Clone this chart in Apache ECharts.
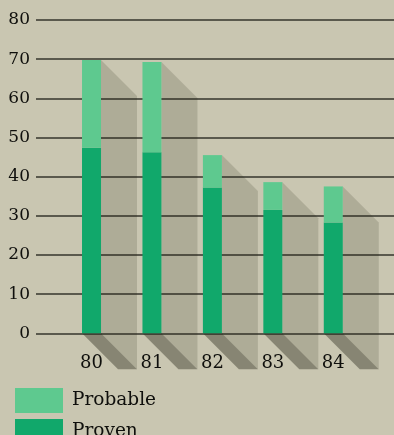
<!DOCTYPE html>
<html>
<head>
<meta charset="utf-8">
<script src="https://cdn.jsdelivr.net/npm/echarts@6/dist/echarts.min.js"></script>
<style>
  html, body { margin: 0; padding: 0; background: #c9c6b1; }
  #chart { width: 394px; height: 435px; }
</style>
</head>
<body>
<div id="chart"></div>
<script>
// Reserves by year (stacked: proven at the base, probable on top)
const categories = ['80', '81', '82', '83', '84'];
const proven = [47.4, 46.2, 37.2, 31.5, 28.3];
const probable = [22.4, 23.1, 8.3, 7.1, 9.2];
const yTicks = { min: 0, max: 80, interval: 10 };
const legendNames = ['Probable', 'Proven'];

const BAR_W = 19;       // bar width in px
const SHADOW_D = 36;    // diagonal offset of the cast shadow in px
const FONT = 'DejaVu Serif';
const INK = '#0f0f0c';

const totals = categories.map((c, i) => proven[i] + probable[i]);

// one legend block per entry, stacked down the bottom-left corner
const legendTextStyle = { fontFamily: FONT, fontSize: 18.5, color: INK, padding: [0, 0, 4, 4] };
const legends = legendNames.map((name, i) => ({
  left: 10, top: 383 + i * 31,
  itemWidth: 48, itemHeight: 25,
  icon: 'rect',
  data: [name],
  textStyle: legendTextStyle
}));

const chart = echarts.init(document.getElementById('chart'), null, { renderer: 'canvas' });

chart.setOption({
  backgroundColor: '#c9c6b1',
  animation: false,
  grid: [
    // grid for the value scale and the horizontal rules
    { left: 36, right: 0, top: 20, height: 313.3, containLabel: false },
    // grid holding the bars
    { left: 61.3, right: 30.5, top: 20, height: 313.3, containLabel: false }
  ],
  xAxis: [
    { type: 'value', gridIndex: 0, show: false, min: 0, max: 1 },
    {
      type: 'category', gridIndex: 1, data: categories,
      axisLine: { show: false }, axisTick: { show: false },
      axisLabel: { margin: 21, fontFamily: FONT, fontSize: 18, color: INK }
    }
  ],
  yAxis: [
    {
      type: 'value', gridIndex: 0, min: yTicks.min, max: yTicks.max, interval: yTicks.interval,
      axisLine: { show: false }, axisTick: { show: false },
      axisLabel: { margin: 6, fontFamily: FONT, fontSize: 17, color: INK },
      splitLine: { show: true, lineStyle: { color: '#34342c', width: 1.5 } }
    },
    {
      type: 'value', gridIndex: 1, min: yTicks.min, max: yTicks.max, interval: yTicks.interval,
      show: false, splitLine: { show: false }
    }
  ],
  legend: legends,
  series: [
    {
      // cast shadow behind each bar and its floor streak
      type: 'custom', name: 'shadow', xAxisIndex: 1, yAxisIndex: 1, z: 1,
      silent: true, clip: false,
      data: totals.map((t, i) => [i, t]),
      renderItem: function (params, api) {
        const top = api.coord([api.value(0), api.value(1)]);
        const base = api.coord([api.value(0), 0]);
        const x0 = top[0] - BAR_W / 2, x1 = top[0] + BAR_W / 2;
        const yt = top[1], yb = base[1], d = SHADOW_D;
        return {
          type: 'group',
          children: [
            {
              type: 'polygon',
              shape: { points: [[x1, yt], [x1 + d, yt + d], [x1 + d, yb + d], [x1, yb]] },
              style: { fill: 'rgba(40,40,20,0.16)' }
            },
            {
              type: 'polygon',
              shape: { points: [[x0, yb], [x1, yb], [x1 + d, yb + d], [x0 + d, yb + d]] },
              style: { fill: 'rgba(30,30,15,0.38)' }
            }
          ]
        };
      }
    },
    {
      name: 'Proven', type: 'bar', stack: 'r', xAxisIndex: 1, yAxisIndex: 1, z: 3,
      barWidth: BAR_W, data: proven,
      itemStyle: { color: '#11a86b' }
    },
    {
      name: 'Probable', type: 'bar', stack: 'r', xAxisIndex: 1, yAxisIndex: 1, z: 3,
      barWidth: BAR_W, data: probable,
      itemStyle: { color: '#5ec98f' }
    }
  ]
});
</script>
</body>
</html>
